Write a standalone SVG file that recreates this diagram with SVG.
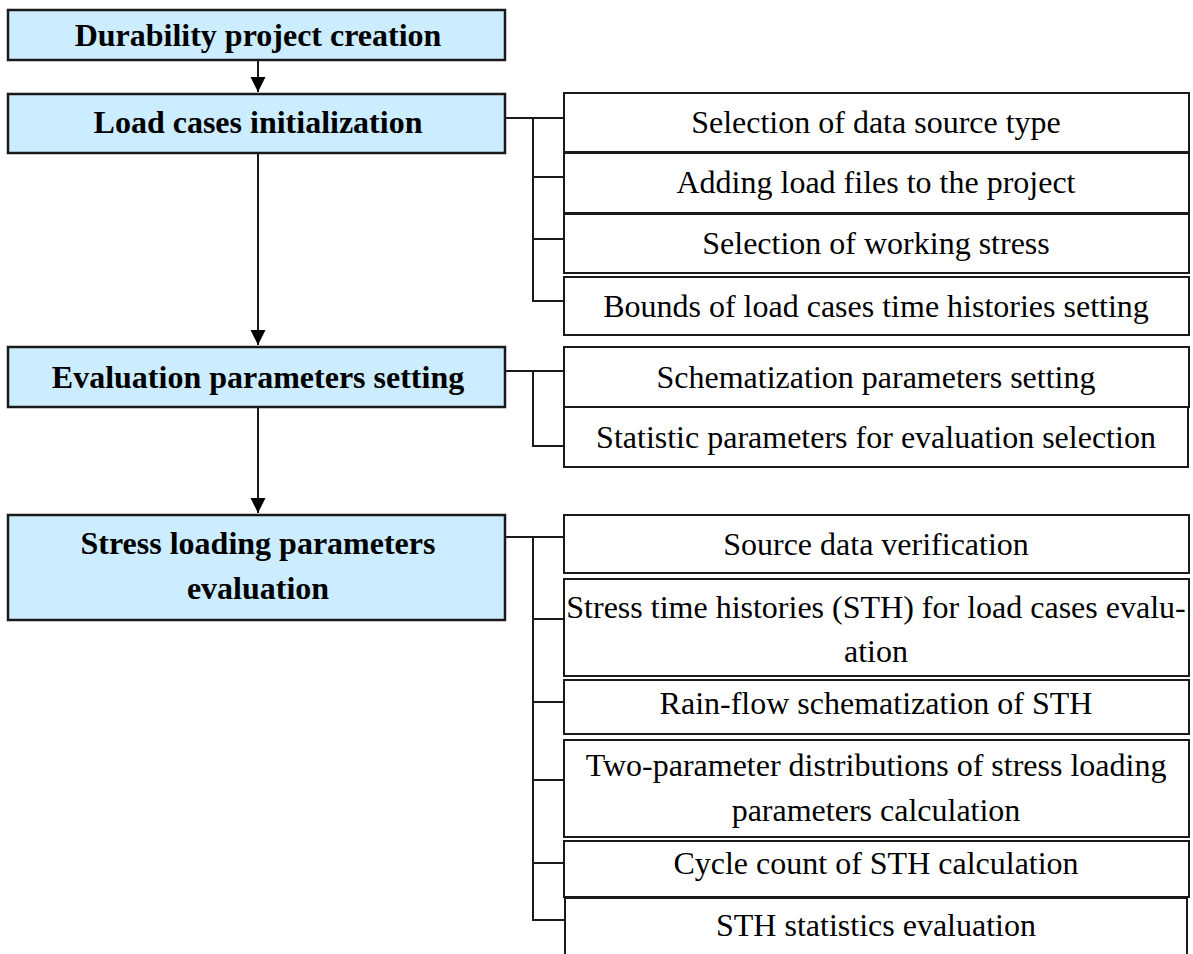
<svg xmlns="http://www.w3.org/2000/svg" width="1193" height="954" viewBox="0 0 1193 954">
<defs>
<style>
.main{fill:#CCECFF;stroke:#1a1a1a;stroke-width:2.5}
.sub{fill:#ffffff;stroke:#1a1a1a;stroke-width:2}
.mt{font-family:"Liberation Serif","Times New Roman",serif;font-weight:bold;font-size:32px;fill:#000;text-anchor:middle}
.st{font-family:"Liberation Serif","Times New Roman",serif;font-size:32px;fill:#000;text-anchor:middle}
.ln{fill:none;stroke:#1a1a1a;stroke-width:2}
</style>
<marker id="ahl" markerWidth="16" markerHeight="16" refX="15" refY="8" orient="auto" markerUnits="userSpaceOnUse" viewBox="0 0 16 16">
<path d="M0,0.5 L15,8 L0,15.5 Z" fill="#000"/>
</marker>
</defs>
<rect width="1193" height="954" fill="#ffffff"/>
<g id="connectors">
<line class="ln" x1="258" y1="61" x2="258" y2="92" marker-end="url(#ahl)"/>
<line class="ln" x1="258" y1="143" x2="258" y2="345" marker-end="url(#ahl)"/>
<line class="ln" x1="258" y1="408" x2="258" y2="513" marker-end="url(#ahl)"/>
<polyline class="ln" points="506,118 564,118"/>
<polyline class="ln" points="564,301 533,301 533,118"/>
<line class="ln" x1="533" y1="177" x2="564" y2="177"/>
<line class="ln" x1="533" y1="239" x2="564" y2="239"/>
<polyline class="ln" points="506,371 564,371"/>
<polyline class="ln" points="564,446 533,446 533,371"/>
<polyline class="ln" points="506,537 564,537"/>
<polyline class="ln" points="566,920 533,920 533,537"/>
<line class="ln" x1="533" y1="619" x2="564" y2="619"/>
<line class="ln" x1="533" y1="702" x2="564" y2="702"/>
<line class="ln" x1="533" y1="780" x2="564" y2="780"/>
<line class="ln" x1="533" y1="863" x2="564" y2="863"/>
</g>
<g id="n1"><rect class="main" x="8" y="10" width="497" height="50"/><text class="mt" x="258" y="46">Durability project creation</text></g>
<g id="n2"><rect class="main" x="8" y="94" width="497" height="59"/><text class="mt" x="258" y="133">Load cases initialization</text></g>
<g id="n3"><rect class="main" x="8" y="347" width="497" height="60"/><text class="mt" x="258" y="388">Evaluation parameters setting</text></g>
<g id="n4"><rect class="main" x="8" y="515" width="497" height="105"/><text class="mt" x="258" y="554">Stress loading parameters</text><text class="mt" x="258" y="599">evaluation</text></g>
<g id="s1"><rect class="sub" x="564" y="93" width="625" height="59"/><text class="st" x="876" y="133">Selection of data source type</text></g>
<g id="s2"><rect class="sub" x="564" y="153" width="625" height="60"/><text class="st" x="876" y="193">Adding load files to the project</text></g>
<g id="s3"><rect class="sub" x="564" y="214" width="625" height="59"/><text class="st" x="876" y="254">Selection of working stress</text></g>
<g id="s4"><rect class="sub" x="564" y="277" width="625" height="58"/><text class="st" x="876" y="317">Bounds of load cases time histories setting</text></g>
<g id="s5"><rect class="sub" x="564" y="347" width="625" height="60"/><text class="st" x="876" y="388">Schematization parameters setting</text></g>
<g id="s6"><rect class="sub" x="564" y="407" width="624" height="60"/><text class="st" x="876" y="448">Statistic parameters for evaluation selection</text></g>
<g id="s7"><rect class="sub" x="564" y="515" width="625" height="58"/><text class="st" x="876" y="555">Source data verification</text></g>
<g id="s8"><rect class="sub" x="564" y="579" width="625" height="97"/><text class="st" x="876" y="618">Stress time histories (STH) for load cases evalu-</text><text class="st" x="876" y="662">ation</text></g>
<g id="s9"><rect class="sub" x="564" y="680" width="625" height="54"/><text class="st" x="876" y="714">Rain-flow schematization of STH</text></g>
<g id="s10"><rect class="sub" x="564" y="740" width="625" height="97"/><text class="st" x="876" y="776">Two-parameter distributions of stress loading</text><text class="st" x="876" y="821">parameters calculation</text></g>
<g id="s11"><rect class="sub" x="564" y="841" width="625" height="56"/><text class="st" x="876" y="874">Cycle count of STH calculation</text></g>
<g id="s12"><rect class="sub" x="565" y="898" width="622" height="80"/><text class="st" x="876" y="936">STH statistics evaluation</text></g>
</svg>
